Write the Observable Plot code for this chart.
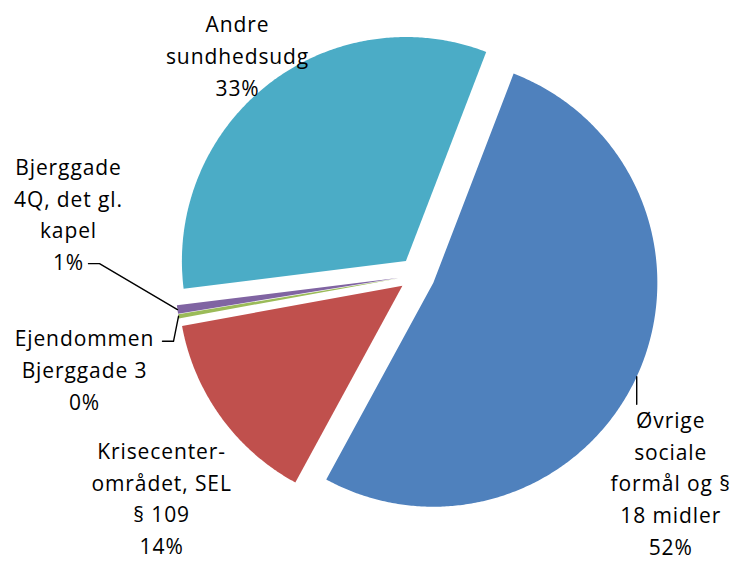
<!DOCTYPE html>
<html><head><meta charset="utf-8">
<script src="https://cdn.jsdelivr.net/npm/d3@7"></script>
<script src="https://cdn.jsdelivr.net/npm/@observablehq/plot@0.6"></script>
<style>body{margin:0;background:#fff}#chart svg{display:block}#chart text{letter-spacing:0.9px}</style>
</head><body><div id="chart"></div>
<script>
// ---- data ----
const categories = ["Øvrige sociale formål og § 18 midler","Krisecenterområdet, SEL § 109","Ejendommen Bjerggade 3","Bjerggade 4Q, det gl. kapel","Andre sundhedsudg"];
const labelLines = ["Øvrige\nsociale\nformål og §\n18 midler","Krisecenter-\nområdet, SEL\n§ 109","Ejendommen\nBjerggade 3","Bjerggade\n4Q, det gl.\nkapel","Andre\nsundhedsudg"];
const shares = [52.1, 14.2, 0.3, 0.6, 32.8];
const colors = ["#4F81BD","#C0504D","#9BBB59","#8064A2","#4BACC6"];

// ---- layout ----
const W = 738, H = 562, CX = 416.5, CY = 274.7, R = 224, EXPLODE = 18, START = 21;
const FS = 21, LH = 31.6;
const total = d3.sum(shares);
const dir = deg => [Math.sin(deg * Math.PI / 180), -Math.cos(deg * Math.PI / 180)];
let acc = START;
const slices = categories.map((c, i) => { const s = acc, e = acc + shares[i] / total * 360; acc = e; return {c, i, s, e, mid: (s + e) / 2}; });

const pts = [];
for (const sl of slices) {
  const [ux, uy] = dir(sl.mid), ox = ux * EXPLODE, oy = uy * EXPLODE;
  sl.ox = ox; sl.oy = oy;
  pts.push({c: sl.c, x: ox, y: oy});
  const n = Math.max(2, Math.ceil((sl.e - sl.s) / 0.5));
  for (let k = 0; k <= n; k++) { const t = sl.s + (sl.e - sl.s) * k / n; const [dx, dy] = dir(t); pts.push({c: sl.c, x: ox + R * dx, y: oy + R * dy}); }
  pts.push({c: sl.c, x: ox, y: oy});
}

// label placement: angle offset from slice middle, radius factor
const labelPlace = [{off: 14.3, r: 1.459}, {off: -5.0, r: 1.508}, {off: -5.8, r: 1.541}, {off: 18.4, r: 1.581}, {off: -1.0, r: 1.272}];
const labels = slices.map((sl, i) => {
  const p = labelPlace[i]; const [dx, dy] = dir(sl.mid + p.off);
  const text = labelLines[i] + "\n" + Math.round(shares[i]) + "%";
  const n = text.split("\n").length;
  return {x: R * p.r * dx, y: R * p.r * dy, text, n};
});

// leader lines
const arcPt = i => { const sl = slices[i]; const [dx, dy] = dir(sl.mid); return [sl.ox + R * dx, sl.oy + R * dy]; };
const leaders = [];
{ // blue: straight down to label top
  const [ax, ay] = arcPt(0); const L = labels[0];
  leaders.push({g: 0, x: ax, y: ay}, {g: 0, x: ax, y: L.y - L.n * LH / 2 + 2});
}
{ // green: from first line end
  const [ax, ay] = arcPt(2); const L = labels[2]; const fy = L.y - (L.n - 1) * LH / 2 + 5;
  leaders.push({g: 2, x: ax, y: ay}, {g: 2, x: L.x + 89, y: fy}, {g: 2, x: L.x + 78, y: fy});
}
{ // purple: from last line end
  const [ax, ay] = arcPt(3); const L = labels[3]; const ly = L.y + (L.n - 1) * LH / 2 + 4;
  leaders.push({g: 3, x: ax, y: ay}, {g: 3, x: L.x + 31, y: ly}, {g: 3, x: L.x + 20, y: ly});
}

const chart = Plot.plot({
  width: W, height: H, margin: 0,
  style: {background: "#fff", fontFamily: "'Open Sans', sans-serif"},
  x: {domain: [-CX, W - CX], range: [0, W], axis: null},
  y: {domain: [-CY, H - CY], range: [0, H], axis: null},
  color: {domain: categories, range: colors},
  marks: [
    Plot.line(pts, {x: "x", y: "y", z: "c", fill: "c", stroke: "none", curve: "linear"}),
    Plot.line(leaders, {x: "x", y: "y", z: "g", stroke: "#000", strokeWidth: 1.4, curve: "linear"}),
    Plot.text(labels, {x: "x", y: "y", text: "text", fontSize: FS, lineHeight: LH / FS, fill: "#000", textAnchor: "middle", fontFamily: "'Open Sans', sans-serif"})
  ]
});
document.getElementById("chart").append(chart);
</script>
</body></html>
